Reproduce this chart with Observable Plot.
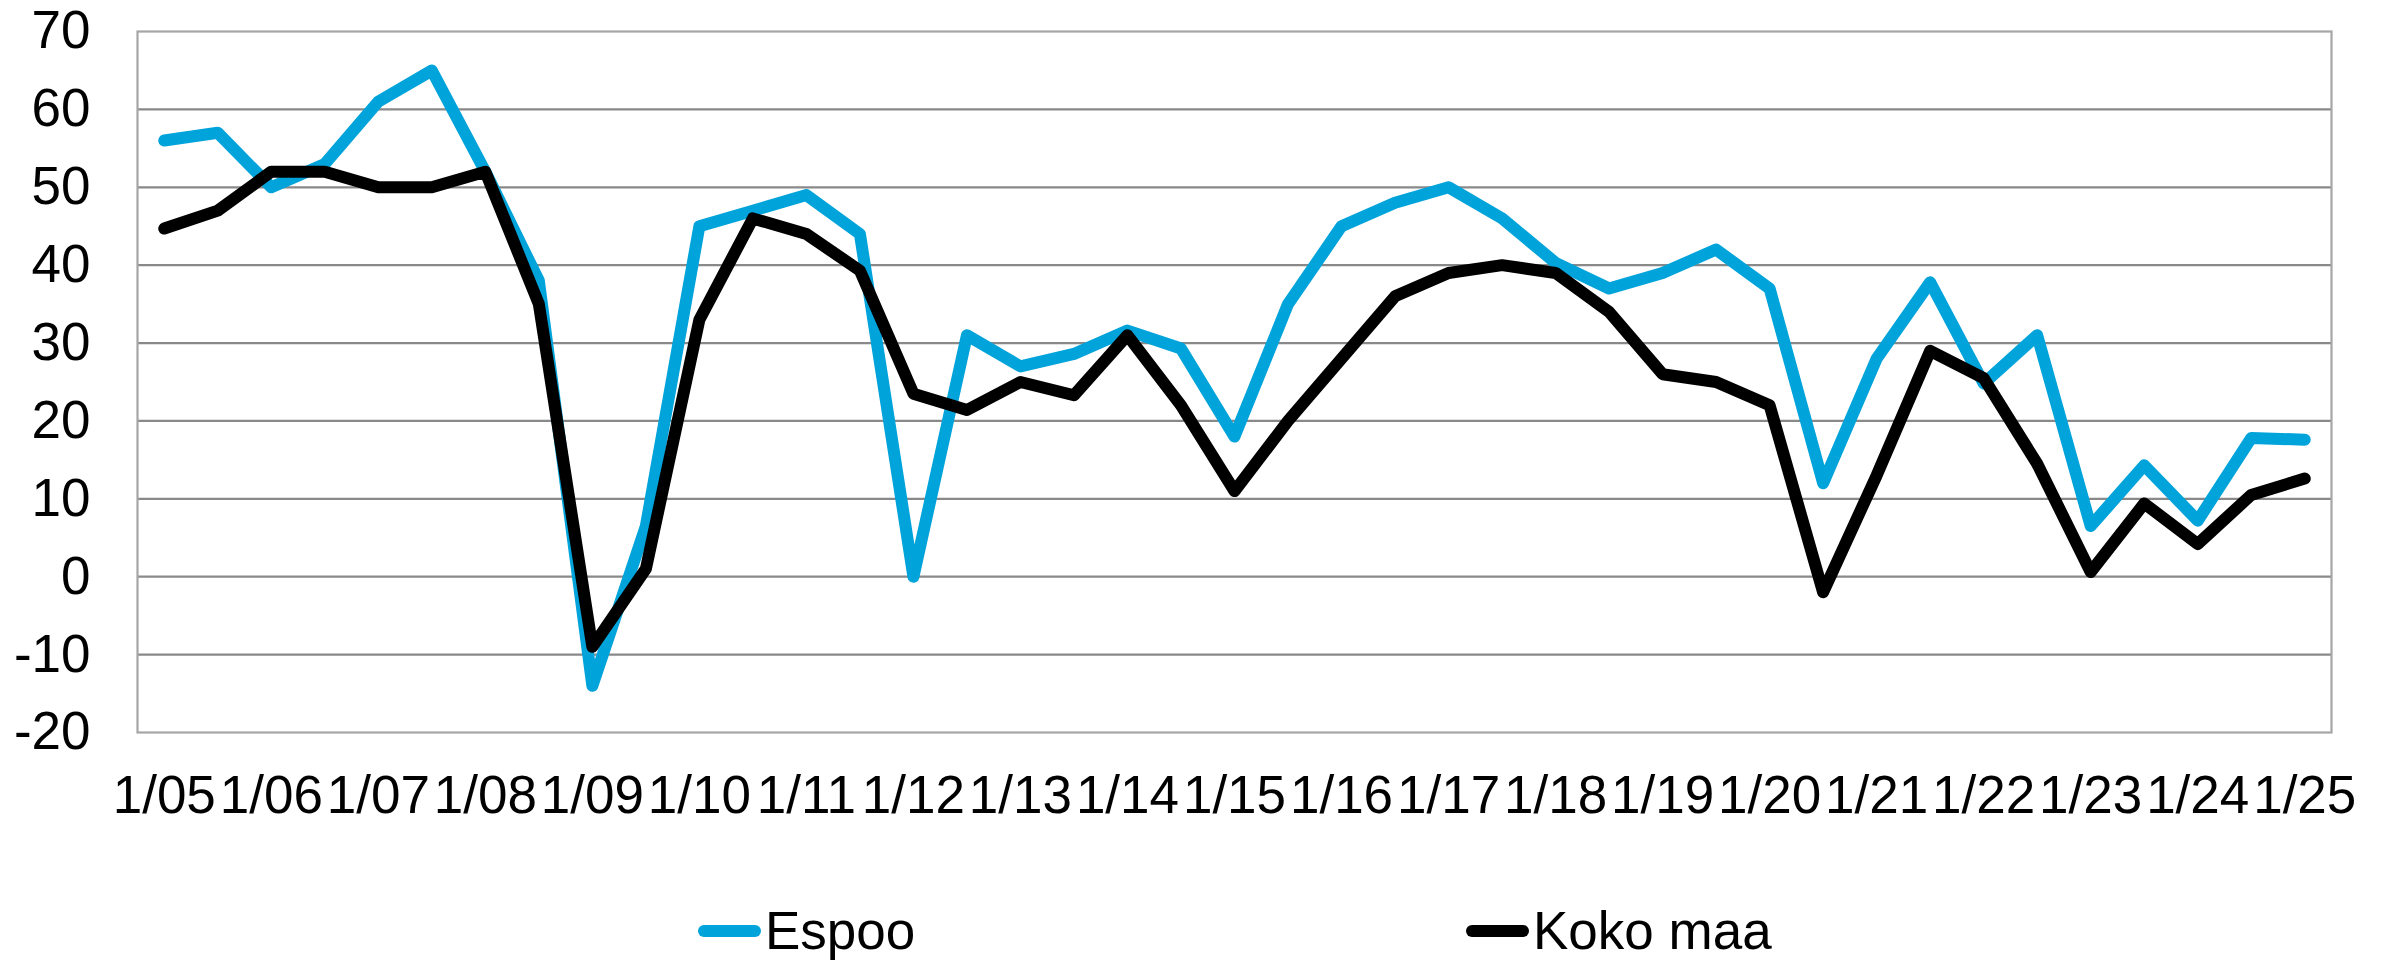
<!DOCTYPE html>
<html><head><meta charset="utf-8">
<script src="https://cdn.jsdelivr.net/npm/d3@7"></script>
<script src="https://cdn.jsdelivr.net/npm/@observablehq/plot@0.6"></script>
<style>
body{margin:0;background:#fff;font-family:"Liberation Sans",Arial,sans-serif;}
#chart svg{display:block;}
#legend{position:relative;height:61px;width:2381px;font-size:53px;color:#000;}
.item{position:absolute;top:0;height:61px;display:flex;align-items:center;white-space:nowrap;}
.sw{width:63px;height:12px;border-radius:6px;margin-right:4px;}
</style></head><body><div id="chart"></div><div id="legend"></div>
<script>
const periods = ["1/05","7/05","1/06","7/06","1/07","7/07","1/08","7/08","1/09","7/09",
  "1/10","7/10","1/11","7/11","1/12","7/12","1/13","7/13","1/14","7/14",
  "1/15","7/15","1/16","7/16","1/17","7/17","1/18","7/18","1/19","7/19",
  "1/20","7/20","1/21","7/21","1/22","7/22","1/23","7/23","1/24","7/24","1/25"];
const espoo = [56,57,50,53,61,65,52,38,-14,6.5,
  45,47,49,44,0,31,27,28.6,31.6,29.3,
  18,35,45,48,50,46,40.3,37,39,42,
  37,12,28,37.8,24.8,31,6.5,14.3,7.2,17.8,17.6];
const kokoMaa = [44.7,47,52,52,50,50,52,35,-9,1,
  33,46,44,39.3,23.5,21.4,25,23.3,31,22,
  11,20,28,36,39,40,39,34,26,25,
  22,-2,13,29,25.5,14.5,0.6,9.4,4.2,10.5,12.6];
const tickLabels = ["1/05","1/06","1/07","1/08","1/09","1/10","1/11","1/12","1/13","1/14",
  "1/15","1/16","1/17","1/18","1/19","1/20","1/21","1/22","1/23","1/24","1/25"];
const yTicks = [-20,-10,0,10,20,30,40,50,60,70];
const seriesNames = ["Espoo","Koko maa"];
const colors = ["#00a3da","#000000"];
const legendLeft = [698, 1466];

const data = [];
periods.forEach((p,i)=>{ data.push({period:p, series:seriesNames[0], value:espoo[i]}); });
periods.forEach((p,i)=>{ data.push({period:p, series:seriesNames[1], value:kokoMaa[i]}); });

const chart = Plot.plot({
  width:2381, height:900,
  marginLeft:137, marginRight:50, marginTop:31, marginBottom:168,
  style:{fontFamily:"'Liberation Sans', Arial, sans-serif", fontSize:"53px", color:"#000", background:"#fff", overflow:"visible"},
  x:{type:"point", domain:periods, padding:0.5, round:false, label:null},
  y:{domain:[-20,70], label:null},
  color:{domain:seriesNames, range:colors},
  marks:[
    Plot.ruleY(yTicks.slice(1,-1), {stroke:"#898989", strokeWidth:2.2}),
    Plot.frame({stroke:"#a6a6a6", strokeWidth:2.2}),
    Plot.axisY({ticks:yTicks, tickSize:0, tickPadding:47, label:null, fontSize:53, tickFormat:d=>String(d)}),
    Plot.axisX({ticks:tickLabels, tickSize:0, tickPadding:43, label:null, fontSize:53}),
    Plot.line(data, {x:"period", y:"value", z:"series", stroke:"series", strokeWidth:12, strokeLinejoin:"round", strokeLinecap:"round"})
  ]
});
document.getElementById("chart").appendChild(chart);

const legend = document.getElementById("legend");
seriesNames.forEach((n,i)=>{
  const it = document.createElement("div"); it.className="item"; it.style.left = legendLeft[i] + "px";
  const sw = document.createElement("div"); sw.className="sw"; sw.style.background=colors[i];
  const t = document.createElement("span"); t.textContent=n;
  it.appendChild(sw); it.appendChild(t); legend.appendChild(it);
});
</script></body></html>
